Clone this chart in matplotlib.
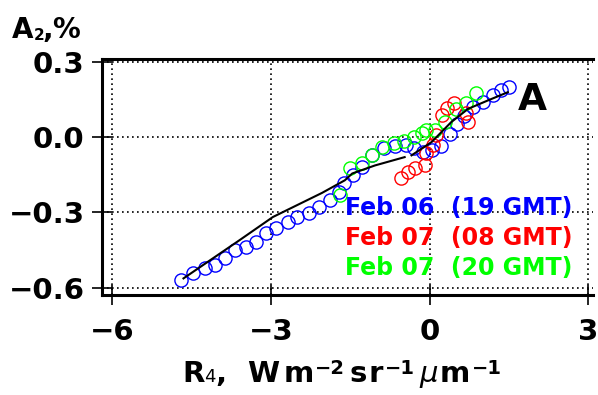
import matplotlib
matplotlib.use("Agg")
import matplotlib.pyplot as plt

plt.rcParams['font.family'] = ['DejaVu Sans']

# ---- data ----
blue_x = [-4.69, -4.47, -4.24, -4.05, -3.86, -3.68, -3.47, -3.28, -3.09, -2.91,
          -2.68, -2.50, -2.27, -2.08, -1.89, -1.71, -1.62, -1.45, -1.28, -1.09,
          -0.86, -0.66, -0.45, -0.30, -0.12, 0.05, 0.22, 0.38, 0.52, 0.66,
          0.83, 1.02, 1.20, 1.35, 1.50]
blue_y = [-0.569, -0.541, -0.521, -0.510, -0.482, -0.450, -0.438, -0.418, -0.383, -0.363,
          -0.339, -0.319, -0.303, -0.279, -0.252, -0.220, -0.184, -0.150, -0.120, -0.073,
          -0.045, -0.035, -0.030, -0.045, -0.060, -0.050, -0.035, 0.010, 0.050, 0.085,
          0.120, 0.140, 0.165, 0.185, 0.200]

red_x = [-0.53, -0.40, -0.28, -0.09, -0.06, 0.06, 0.13, 0.23, 0.33, 0.47, 0.69, 0.73]
red_y = [-0.164, -0.140, -0.125, -0.113, -0.065, -0.030, 0.006, 0.086, 0.115, 0.137, 0.094, 0.058]

green_x = [-1.69, -1.50, -1.28, -1.08, -0.90, -0.68, -0.49, -0.30, -0.15, -0.06,
           0.10, 0.30, 0.50, 0.69, 0.88]
green_y = [-0.230, -0.125, -0.105, -0.070, -0.040, -0.025, -0.015, 0.000, 0.015, 0.026,
           0.026, 0.060, 0.110, 0.137, 0.173]

fit1_x = [-4.65, -3.59, -2.96, -2.03, -1.60, -1.46, -1.03, -0.47]
fit1_y = [-0.562, -0.410, -0.318, -0.222, -0.172, -0.145, -0.113, -0.080]
fit2_x = [-0.34, 0.04, 0.41, 0.73, 1.10, 1.48]
fit2_y = [-0.073, -0.020, 0.059, 0.112, 0.145, 0.178]

x_ticks = [-6, -3, 0, 3]
y_ticks = [-0.6, -0.3, 0.0, 0.3]
x_ticklabels = ['\u22126', '\u22123', '0', '3']
y_ticklabels = ['\u22120.6', '\u22120.3', '0.0', '0.3']

labels = ['Feb 06  (19 GMT)', 'Feb 07  (08 GMT)', 'Feb 07  (20 GMT)']
colors = ['#0000ff', '#ff0000', '#00ff00']

W, H = 598, 395
fig = plt.figure(figsize=(W / 100, H / 100), dpi=100)
ax = fig.add_axes([102 / W, 1 - 295 / H, (593 - 102) / W, (295 - 59) / H])

mk = dict(marker='o', linestyle='none', markersize=9.5, markerfacecolor='none',
          markeredgewidth=1.0)
ax.plot(blue_x, blue_y, markeredgecolor=colors[0], **mk)
ax.plot(red_x, red_y, markeredgecolor=colors[1], **mk)
ax.plot(green_x, green_y, markeredgecolor=colors[2], **mk)
ax.plot(fit1_x, fit1_y, color='black', linewidth=1.5)
ax.plot(fit2_x, fit2_y, color='black', linewidth=1.5)

ax.set_xlim(-6.19, 3.09)
ax.set_ylim(-0.628, 0.31)
ax.set_xticks(x_ticks)
ax.set_xticklabels(x_ticklabels)
ax.set_yticks(y_ticks)
ax.set_yticklabels(y_ticklabels)
for lab in ax.get_xticklabels() + ax.get_yticklabels():
    lab.set_fontweight('bold')
    lab.set_fontsize(21)
ax.tick_params(axis='both', direction='inout', length=15, width=1.2, colors='black')
ax.tick_params(axis='y', pad=5)
ax.tick_params(axis='x', pad=9)

ax.grid(True, color='black', linestyle=(0, (1, 2)), linewidth=1.2)
for s in ['left', 'top', 'bottom']:
    ax.spines[s].set_linewidth(2.2)
ax.spines['right'].set_visible(False)

# legend-like text
for i, (t, c) in enumerate(zip(labels, colors)):
    fig.text(345 / W, 1 - (215 + 30 * i) / H, t, color=c, fontsize=17,
             fontweight='bold', ha='left', va='baseline')

fig.text(518 / W, 1 - 110 / H, 'A', fontsize=27, fontweight='bold',
         ha='left', va='baseline')

renderer = fig.canvas.get_renderer()


def measure(txt, size, weight, style):
    t = fig.text(0, 0, txt, fontsize=size, fontweight=weight, fontstyle=style)
    w = t.get_window_extent(renderer).width
    t.remove()
    return w


def place(pieces, x0, base, x1=None):
    """pieces: (text, size, weight, style, dy, gap, stretch). Extra space is
    spread over gaps by their stretch weight so the run ends at x1."""
    widths = [measure(p[0], p[1], p[2], p[3]) for p in pieces]
    natural = sum(widths) + sum(p[5] for p in pieces[1:])
    wsum = sum(p[6] for p in pieces[1:])
    unit = 0.0
    if x1 is not None and wsum > 0:
        unit = (x1 - x0 - natural) / wsum
    x = x0
    for i, ((txt, size, weight, style, dy, gap, st), w) in enumerate(zip(pieces, widths)):
        if i > 0:
            x += gap + unit * st
        fig.text(x / W, 1 - (base - dy) / H, txt, fontsize=size,
                 fontweight=weight, fontstyle=style, ha='left', va='baseline')
        x += w
    return x


# y axis title  A2,%
place([('A', 20, 'bold', 'normal', 0, 0, 0),
       ('2', 11, 'bold', 'normal', -2, 0, 0),
       (',', 20, 'bold', 'normal', 0, 1, 1),
       ('%', 20, 'bold', 'normal', 0, 1, 1)], 12, 38, 80)

# x axis title  R4,  Wm-2 sr-1 um-1
M = '\u2212'
place([('R', 21, 'bold', 'normal', 0, 0, 0),
       ('4', 13, 'normal', 'normal', 0, 0, 0),
       (',', 21, 'bold', 'normal', 0, 0, 0),
       ('W', 21, 'bold', 'normal', 0, 12, 2),
       ('m', 21, 'bold', 'normal', 0, 0, 1),
       (M + '2', 14, 'bold', 'normal', 8, 0, 0.5),
       ('s', 21, 'bold', 'normal', 0, 0, 1),
       ('r', 21, 'bold', 'normal', 0, 0, 0.5),
       (M + '1', 14, 'bold', 'normal', 8, 0, 0.5),
       ('\u03bc', 21, 'normal', 'italic', 0, 0, 1),
       ('m', 21, 'bold', 'normal', 0, 0, 0.5),
       (M + '1', 14, 'bold', 'normal', 8, 0, 0.5)], 182, 382, 502)

fig.savefig('out.png', dpi=100)
